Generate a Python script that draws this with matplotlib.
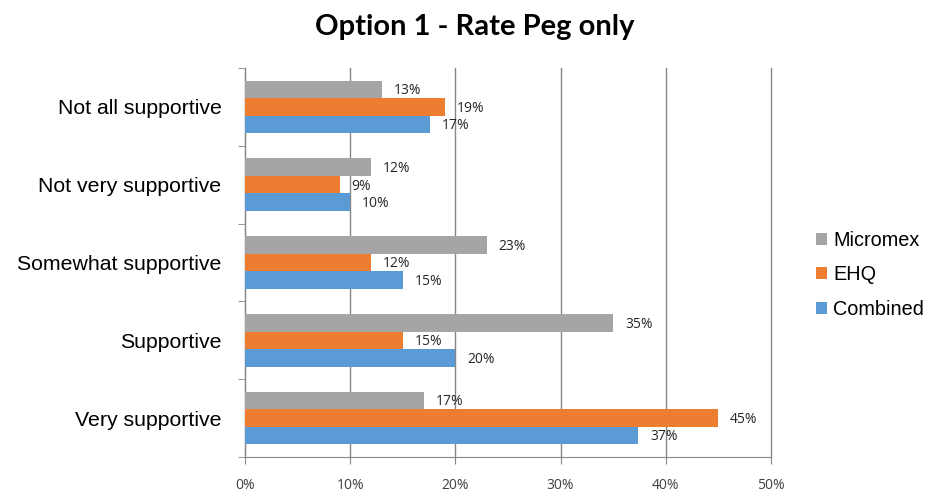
import numpy as np
import matplotlib
matplotlib.use("Agg")
import matplotlib.pyplot as plt
from matplotlib.ticker import FuncFormatter

# ===============================
# DATA
# ===============================
categories = ["Very supportive", "Supportive", "Somewhat supportive",
              "Not very supportive", "Not all supportive"]
micromex = [17, 35, 23, 12, 13]
ehq = [45, 15, 12, 9, 19]
combined = [37.4, 20, 15, 10, 17.6]
micromex_labels = ["17%", "35%", "23%", "12%", "13%"]
ehq_labels = ["45%", "15%", "12%", "9%", "19%"]
combined_labels = ["37%", "20%", "15%", "10%", "17%"]
x_ticks = [0, 10, 20, 30, 40, 50]

# ===============================
# PLOT
# ===============================
fig = plt.figure(figsize=(9.34, 4.93), dpi=100)
ax = fig.add_axes([245 / 934, 36 / 493, 526 / 934, 389 / 493])

y = np.arange(len(categories))
h = 0.225
series = [
    ("Combined", combined, combined_labels, "#5B9BD5", -h),
    ("EHQ", ehq, ehq_labels, "#ED7D31", 0),
    ("Micromex", micromex, micromex_labels, "#A5A5A5", h),
]
for name, vals, labs, col, off in series:
    bars = ax.barh(y + off, vals, height=h, color=col, label=name, zorder=3)
    for b, lab in zip(bars, labs):
        ax.annotate(lab, (b.get_width(), b.get_y() + b.get_height() / 2),
                    xytext=(8.5, -1), textcoords="offset points",
                    va="center", ha="left", fontsize=10,
                    family="Open Sans", color="#262626")

ax.set_xlim(0, 50)
ax.set_ylim(-0.5, len(categories) - 0.5)
ax.set_xticks(x_ticks)
ax.xaxis.set_major_formatter(FuncFormatter(lambda v, p: f"{v:.0f}%"))
ax.set_yticks(y)
ax.set_yticklabels(categories, fontsize=15.3, family="Liberation Sans")
ax.set_yticks(np.arange(-0.5, len(categories)), minor=True)
ax.tick_params(axis="y", which="major", length=0, pad=17)
ax.tick_params(axis="y", which="minor", length=5, color="#868686")
ax.tick_params(axis="x", length=5, color="#868686", labelsize=10,
               labelcolor="#404040", pad=10)
for t in ax.get_xticklabels():
    t.set_family("Open Sans")

ax.grid(axis="x", color="#868686", linewidth=1, zorder=0)
for gl in ax.get_xgridlines():
    gl.set_clip_on(False)
for s in ["top", "right"]:
    ax.spines[s].set_visible(False)
ax.spines["left"].set_color("#868686")
ax.spines["bottom"].set_color("#868686")

handles, labels = ax.get_legend_handles_labels()
leg = ax.legend(handles[::-1], labels[::-1], loc="center left",
                bbox_to_anchor=(1.052, 0.468), frameon=False,
                prop={"family": "Liberation Sans", "size": 14.3},
                handlelength=0.55, handleheight=0.55, labelspacing=0.78,
                handletextpad=0.3)

fig.text(475 / 934, 1 - 27 / 493, "Option 1 - Rate Peg only",
         ha="center", va="center", fontsize=21, fontweight="bold",
         family="Lato")

fig.savefig("out.png", dpi=100)
